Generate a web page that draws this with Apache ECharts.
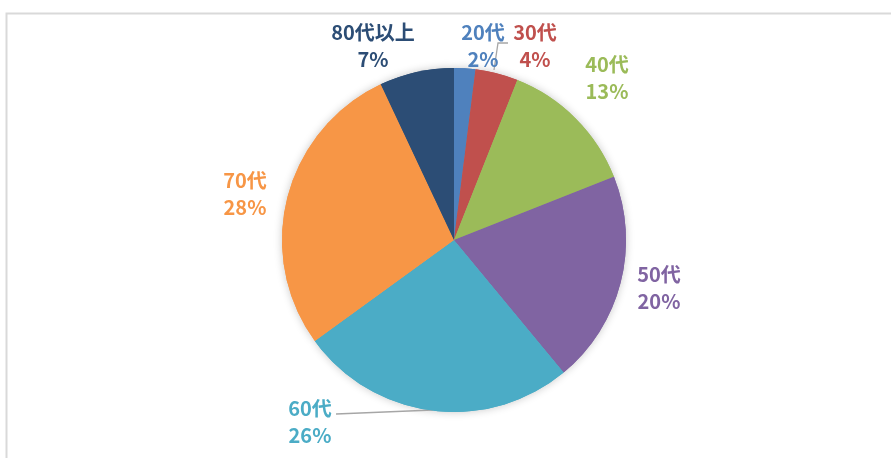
<!DOCTYPE html>
<html><head><meta charset="utf-8">
<script src="https://cdn.jsdelivr.net/npm/echarts@6/dist/echarts.min.js"></script>
<style>html,body{margin:0;padding:0;background:#fff}#c{width:891px;height:458px}</style>
</head><body><div id="c"></div>
<script>
const categories = ['20代','30代','40代','50代','60代','70代','80代以上'];
const values = [2, 4, 13, 20, 26, 28, 7];
const colors = ['#4F81BD','#C0504D','#9BBB59','#8064A2','#4BACC6','#F79646','#2C4D75'];
// label block centers (layout)
const labelPos = [[483,46],[535,46],[607,78],[659,288],[310,422],[245,194],[373,46]];
const labelLines = {0: [[494,70],[498,43],[508,43]], 4: [[336,414],[433,410]]};

const chart = echarts.init(document.getElementById('c'));
const pieData = categories.map((c,i)=>({
  name: c, value: values[i],
  itemStyle: {color: colors[i]},
  label: {color: colors[i]},
  labelLine: {show: i in labelLines, lineStyle:{color:'#a6a6a6', width:1.3}}
}));
chart.setOption({
  animation: false,
  graphic: [{type:'rect', shape:{x:6.5,y:13.5,width:900,height:500}, style:{fill:'none',stroke:'#d9d9d9',lineWidth:2}, silent:true}],
  series: [{
    type: 'pie', z: 1, silent: true,
    center: [454, 240], radius: [0, 172], startAngle: 90,
    data: categories.map((c,i)=>({name:c, value: values[i], itemStyle:{color: colors[i]}})),
    itemStyle: {shadowBlur: 8, shadowColor: 'rgba(0,0,0,0.22)', borderWidth: 0},
    label: {show: false}, labelLine: {show: false}
  },{
    type: 'pie', z: 2,
    center: [454, 240],
    radius: [0, 172],
    startAngle: 90,
    clockwise: true,
    data: pieData,
    itemStyle: {borderWidth: 0},
    label: {
      show: true, position: 'outside',
      formatter: p => p.name + '\n' + p.value + '%',
      fontFamily: '"Noto Sans CJK JP", sans-serif',
      fontWeight: 'bold', fontSize: 20, lineHeight: 27, align: 'center'
    },
    labelLayout: p => {
      const i = p.dataIndex;
      const o = {x: labelPos[i][0], y: labelPos[i][1], align: 'center', verticalAlign: 'middle'};
      if (labelLines[i]) o.labelLinePoints = labelLines[i];
      return o;
    }
  }]
});
</script></body></html>
